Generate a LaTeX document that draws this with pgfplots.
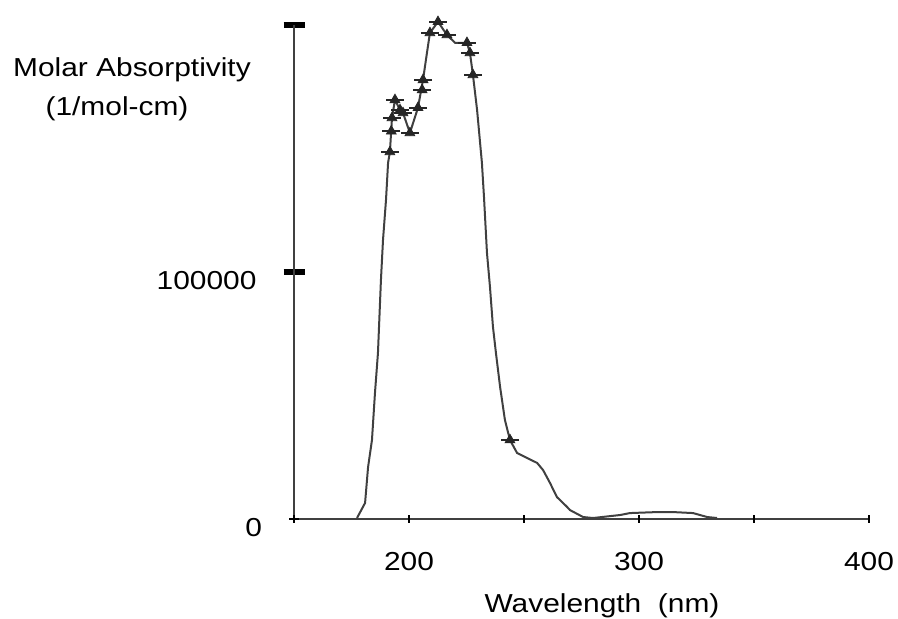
\documentclass[border=0pt]{standalone}
\usepackage{fontspec}
\setmainfont{Liberation Sans}[FakeStretch=1.15]
\usepackage{pgfplots}
\pgfplotsset{compat=1.18}
\begin{document}
\fontsize{13pt}{15pt}\selectfont
\begin{tikzpicture}
\useasboundingbox (0,0) rectangle (449pt,309.5pt);
\begin{axis}[
 at={(147pt,50pt)}, anchor=south west,
 scale only axis, width=287.5pt, height=247pt,
 xmin=150, xmax=400, ymin=0, ymax=200000,
 axis lines=left, axis line style={-, line width=1.1pt, black!75},
 clip=false,
 xtick=\empty,
 extra x ticks={150,200,...,400}, extra x tick labels={,200,,300,,400},
 extra x tick style={major tick length=4pt, x tick style={line width=0.8pt, black}},
 ytick={100000,200000}, yticklabels={100000,},
 extra y ticks={0}, extra y tick labels={0},
 extra y tick style={major tick length=5pt, y tick style={line width=0.8pt, black}},
 tick align=center,
 major tick length=10.5pt,
 y tick style={line width=3pt, black},
 xticklabel style={yshift=-10pt},
 yticklabel style={yshift=-4.5pt, xshift=-9pt},
 /pgf/number format/assume math mode=true,
 ticklabel style={font=\fontsize{13pt}{15pt}\selectfont},
 scaled y ticks=false,
]
\addplot[black!75, line width=1pt] coordinates {
(177.4,400) (180.9,6500) (182.2,21000) (183.9,32000) (185.2,51000)
(186.5,67200) (187.8,96800) (188.7,113000) (190.0,129200) (190.9,144200)
(191.7,148600) (192.6,162400) (193.9,169700) (196.1,165600) (197.4,164400)
(200.4,156300) (203.9,166500) (206.1,177800) (207.8,188700) (209.1,196800)
(212.6,201300) (216.5,196000) (220.0,192800) (225.2,192800) (226.5,188700)
(227.8,179800) (229.6,165600) (231.7,144200) (232.6,130400) (233.9,107700)
(235.2,94000) (236.5,77800) (237.8,67200) (239.6,53500) (241.7,40100)
(243.9,32000) (247.0,26700) (255.7,22700) (258.3,19800) (261.3,14600)
(264.3,8900) (268.7,4900) (270.0,3600) (275.7,800) (280.0,400)
(291.7,1600) (296.1,2400) (307.8,2800) (314.8,2800) (323.5,2400)
(329.6,800) (333.9,400)
};
\addplot[only marks, mark=triangle*, mark size=2.8pt, black!85] coordinates {
(191.7,148600) (192.3,157000) (192.6,162400) (193.9,169700) (196.1,165600)
(197.4,164400) (200.4,156300) (203.9,166500) (205.7,173700) (206.1,177800)
(209.1,196800) (212.6,201300) (216.5,196000) (225.2,192800) (226.5,188700)
(227.8,179800) (243.9,32000)
};
\addplot[only marks, mark=-, mark size=4.5pt, line width=1.2pt, black!85] coordinates {
(191.7,148600) (192.3,157000) (192.6,162400) (193.9,169700) (196.1,165600)
(197.4,164400) (200.4,156300) (203.9,166500) (205.7,173700) (206.1,177800)
(209.1,196800) (212.6,201300) (216.5,196000) (225.2,192800) (226.5,188700)
(227.8,179800) (243.9,32000)
};
\end{axis}
\node[anchor=base] at (66pt,271pt) {Molar Absorptivity};
\node[anchor=base] at (58.5pt,251.5pt) {(1/mol-cm)};
\node[anchor=base] at (301pt,3pt) {Wavelength\ \ (nm)};
\end{tikzpicture}
\end{document}
